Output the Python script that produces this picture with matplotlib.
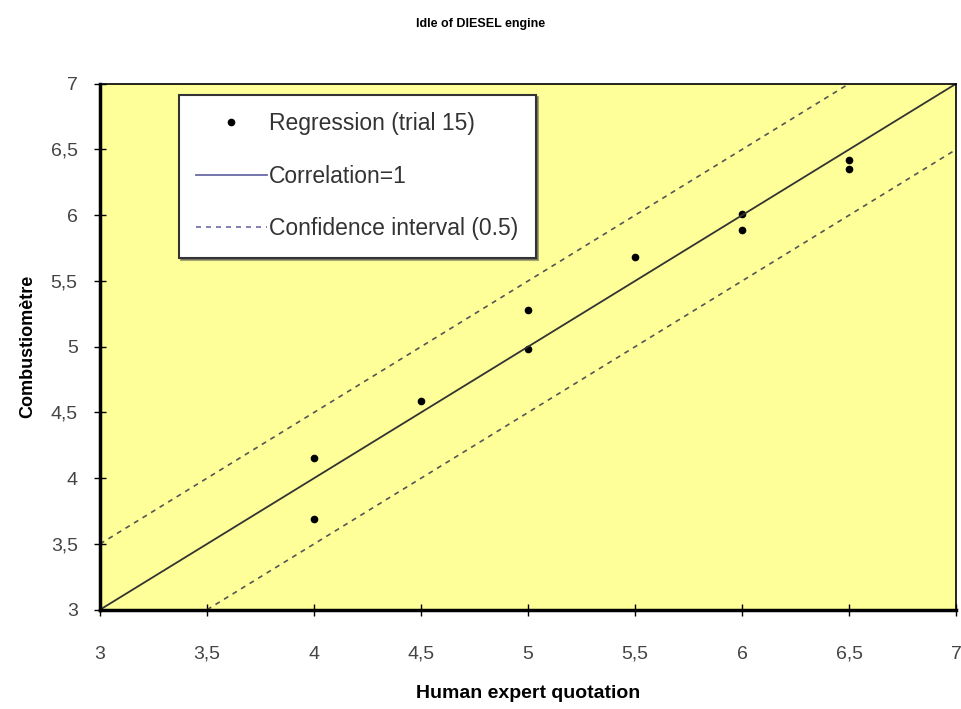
import matplotlib.pyplot as plt
import numpy as np

plt.rcParams['font.family'] = ['Liberation Sans', 'DejaVu Sans']

# expert quotation vs combustiometre readings
expert = [4, 4, 4.5, 5, 5, 5.5, 6, 6, 6.5, 6.5]
combusto = [4.15, 3.69, 4.59, 5.28, 4.98, 5.68, 6.01, 5.89, 6.42, 6.35]
ci = 0.5
line_x = [3, 7]
upper_x = [3, 6.5]
lower_x = [3.5, 7]
ticks = [3, 3.5, 4, 4.5, 5, 5.5, 6, 6.5, 7]
tick_labels = ['3', '3,5', '4', '4,5', '5', '5,5', '6', '6,5', '7']

fig = plt.figure(figsize=(9.61, 7.09), dpi=100)
ax = fig.add_axes([0.104, 0.14, 0.891, 0.742])
ax.set_facecolor('#ffff99')

ax.plot(expert, combusto, 'o', color='black', markersize=4.5, label='Regression (trial 15)')
ax.plot(line_x, line_x, '-', color='#333333', lw=1.3, label='Correlation=1')
ax.plot(upper_x, np.array(upper_x) + ci, '--', color='#555555', lw=1.2,
        dashes=(3, 3), label='Confidence interval (0.5)')
ax.plot(lower_x, np.array(lower_x) - ci, '--', color='#555555', lw=1.2, dashes=(3, 3))

ax.set_xlim(3, 7)
ax.set_ylim(3, 7)
ax.set_xticks(ticks)
ax.set_xticklabels(tick_labels)
ax.set_yticks(ticks)
ax.set_yticklabels(tick_labels)
ax.tick_params(direction='inout', length=8, width=1, labelsize=14, labelcolor='#444444')
ax.tick_params(axis='x', pad=22)
ax.tick_params(axis='y', pad=12)

for side in ['left', 'bottom']:
    ax.spines[side].set_linewidth(2.5)
for side in ['top', 'right']:
    ax.spines[side].set_linewidth(1.2)

ax.set_xlabel('Human expert quotation', fontsize=14, fontweight='bold', labelpad=16)
ax.set_ylabel('Combustiomètre', fontsize=13, fontweight='bold', labelpad=10)
fig.suptitle('Idle of DIESEL engine', fontsize=9, fontweight='bold', y=0.975)

leg = ax.legend(loc='upper left', bbox_to_anchor=(0.092, 0.979), fontsize=16.5,
                frameon=True, fancybox=False, shadow=True, labelspacing=1.3,
                borderpad=0.75, borderaxespad=0, handlelength=3.1, handletextpad=0.1)
leg.get_frame().set_edgecolor('#333333')
leg.get_frame().set_linewidth(1.5)
for ln in leg.get_lines()[1:]:
    ln.set_color('#6a6aa8')
for t in leg.get_texts():
    t.set_color('#333333')

fig.savefig('out.png', dpi=100)
